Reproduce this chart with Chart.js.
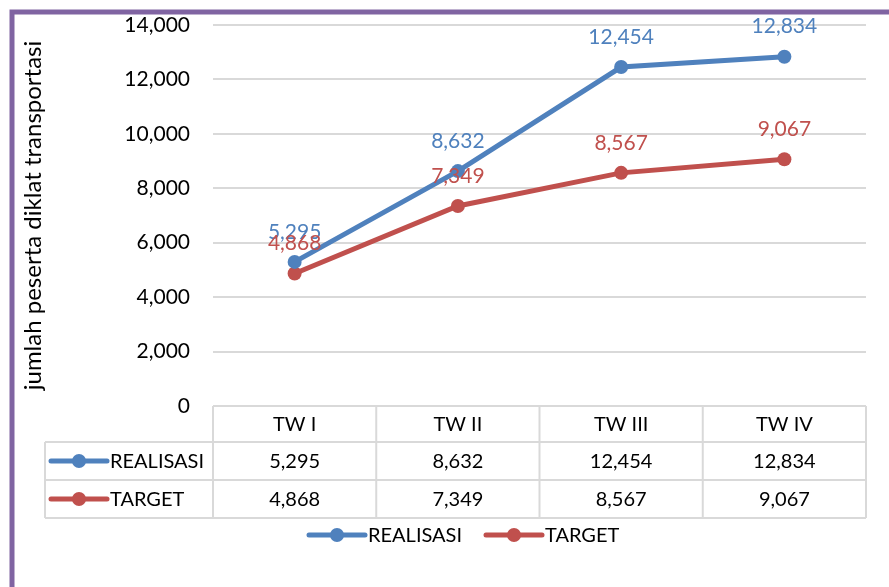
<!DOCTYPE html>
<html>
<head>
<meta charset="utf-8">
<script src="https://cdn.jsdelivr.net/npm/chart.js@4/dist/chart.umd.min.js"></script>
<style>
  html, body { margin: 0; padding: 0; background: #fff; }
  #wrap { width: 889px; height: 587px; }
</style>
</head>
<body>
<div id="wrap"><canvas id="lineChart" width="889" height="587"></canvas></div>
<script>
var categories = ["TW I", "TW II", "TW III", "TW IV"];
var realisasi = [5295, 8632, 12454, 12834];
var target = [4868, 7349, 8567, 9067];
var yTicks = [0, 2000, 4000, 6000, 8000, 10000, 12000, 14000];

var FONT = "Lato, 'Liberation Sans', sans-serif";
var BLUE = "#4F81BD";
var RED = "#C0504D";
var GRID = "#d9d9d9";

function fmt(v) { return v.toLocaleString("en-US"); }

// purple frame + white background
var framePlugin = {
  id: "frame",
  beforeDraw: function (chart) {
    var c = chart.ctx;
    c.save();
    c.fillStyle = "#fff";
    c.fillRect(0, 0, chart.width, chart.height);
    c.strokeStyle = "#8064A2";
    c.lineWidth = 5;
    c.beginPath();
    c.moveTo(12, chart.height);
    c.lineTo(12, 12);
    c.lineTo(chart.width, 12);
    c.stroke();
    c.restore();
  }
};

// value labels above points
var labelPlugin = {
  id: "valueLabels",
  afterDatasetsDraw: function (chart) {
    var c = chart.ctx;
    c.save();
    c.font = "21px " + FONT;
    c.textAlign = "center";
    c.textBaseline = "middle";
    chart.data.datasets.forEach(function (ds, i) {
      var meta = chart.getDatasetMeta(i);
      c.fillStyle = ds.borderColor;
      meta.data.forEach(function (pt, j) {
        c.fillText(fmt(ds.data[j]), pt.x, pt.y - 30);
      });
    });
    c.restore();
  }
};

function legendKey(c, x, y, color) {
  c.strokeStyle = color;
  c.lineWidth = 5;
  c.lineCap = "round";
  c.beginPath();
  c.moveTo(x, y);
  c.lineTo(x + 56, y);
  c.stroke();
  c.fillStyle = color;
  c.beginPath();
  c.arc(x + 28, y, 7, 0, Math.PI * 2);
  c.fill();
}

// data table under the plot + bottom legend
var tablePlugin = {
  id: "dataTable",
  afterDraw: function (chart) {
    var c = chart.ctx;
    var xs = chart.scales.x;
    var area = chart.chartArea;
    var colW = (area.right - area.left) / categories.length;
    var rows = [area.bottom, area.bottom + 36, area.bottom + 74, area.bottom + 112];
    var labelLeft = 45;
    c.save();
    c.strokeStyle = GRID;
    c.lineWidth = 2;
    c.beginPath();
    c.moveTo(area.left, rows[0]); c.lineTo(area.right, rows[0]);
    for (var r = 1; r < rows.length; r++) {
      c.moveTo(labelLeft, rows[r]); c.lineTo(area.right, rows[r]);
    }
    c.moveTo(labelLeft, rows[1]); c.lineTo(labelLeft, rows[3]);
    for (var k = 0; k <= categories.length; k++) {
      var vx = area.left + k * colW;
      c.moveTo(vx, rows[0]); c.lineTo(vx, rows[3]);
    }
    c.stroke();

    c.font = "20px " + FONT;
    c.fillStyle = "#000";
    c.textAlign = "center";
    c.textBaseline = "middle";
    var series = [realisasi, target];
    categories.forEach(function (cat, i) {
      var cx = xs.getPixelForValue(i);
      c.fillText(cat, cx, (rows[0] + rows[1]) / 2 + 1);
      c.fillText(fmt(series[0][i]), cx, (rows[1] + rows[2]) / 2 + 1);
      c.fillText(fmt(series[1][i]), cx, (rows[2] + rows[3]) / 2 + 1);
    });

    var names = ["REALISASI", "TARGET"];
    var colors = [BLUE, RED];
    c.textAlign = "left";
    for (var s = 0; s < 2; s++) {
      var ry = (rows[s + 1] + rows[s + 2]) / 2;
      legendKey(c, 51, ry, colors[s]);
      c.fillStyle = "#000";
      c.fillText(names[s], 110, ry + 1);
    }

    // bottom legend
    var ly = 535;
    legendKey(c, 309, ly, BLUE);
    c.fillStyle = "#000";
    c.fillText("REALISASI", 368, ly + 1);
    legendKey(c, 486, ly, RED);
    c.fillStyle = "#000";
    c.fillText("TARGET", 545, ly + 1);
    c.restore();
  }
};

document.addEventListener("DOMContentLoaded", function () {
  var ctx = document.getElementById("lineChart").getContext("2d");
  new Chart(ctx, {
    type: "line",
    data: {
      labels: categories,
      datasets: [
        {
          label: "REALISASI",
          data: realisasi,
          borderColor: BLUE,
          backgroundColor: BLUE,
          borderWidth: 5,
          pointRadius: 7,
          pointHoverRadius: 7,
          pointBorderWidth: 0,
          tension: 0
        },
        {
          label: "TARGET",
          data: target,
          borderColor: RED,
          backgroundColor: RED,
          borderWidth: 5,
          pointRadius: 7,
          pointHoverRadius: 7,
          pointBorderWidth: 0,
          tension: 0
        }
      ]
    },
    options: {
      responsive: false,
      animation: false,
      layout: { padding: { top: 25, right: 23, bottom: 181, left: 0 } },
      plugins: {
        legend: { display: false },
        tooltip: { enabled: false }
      },
      scales: {
        x: {
          type: "category",
          offset: true,
          display: false
        },
        y: {
          min: 0,
          max: 14000,
          afterFit: function (scale) {
            scale.width = 213;
            scale.paddingTop = 0;
            scale.paddingBottom = 0;
          },
          afterBuildTicks: function (scale) {
            scale.ticks = yTicks.map(function (v) { return { value: v }; });
          },
          border: { display: false },
          grid: { color: GRID, lineWidth: 2, drawTicks: false },
          ticks: {
            padding: 23,
            color: "#000",
            font: { family: FONT, size: 21 },
            callback: function (v) { return fmt(v); }
          },
          title: {
            display: true,
            text: "jumlah peserta diklat transportasi",
            color: "#000",
            font: { family: FONT, size: 24 },
            padding: { top: 19, bottom: 0 }
          }
        }
      }
    },
    plugins: [framePlugin, labelPlugin, tablePlugin]
  });
});
</script>
</body>
</html>
